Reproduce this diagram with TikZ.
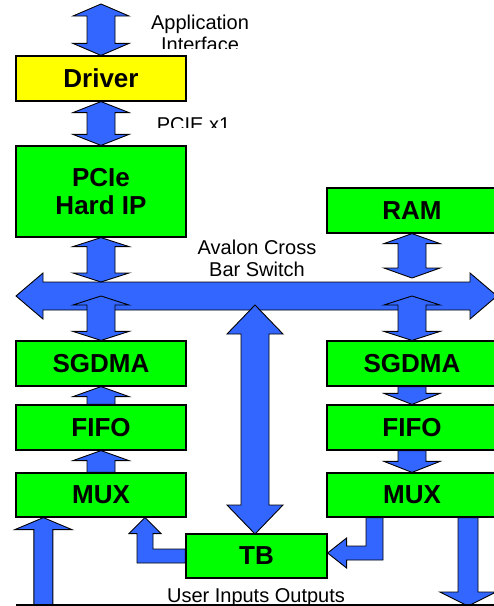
\documentclass[tikz,border=0pt]{standalone}
\usepackage{fontspec}
\setmainfont{Liberation Sans}
\usetikzlibrary{calc}

\definecolor{arrowblue}{RGB}{51,102,255}
\definecolor{boxgreen}{RGB}{0,255,0}
\definecolor{drvyellow}{RGB}{255,255,0}

% fat double arrow, top point, bottom point, head length
\newcommand\vdarrow[3]{%
  \filldraw [blk] let \p1=(#1), \p2=(#2) in
    (\x1,\y1) -- (\x1+28pt,\y1-#3) -- (\x1+14pt,\y1-#3) -- (\x1+14pt,\y2+#3) -- (\x1+28pt,\y2+#3)
    -- (\x1,\y2) -- (\x1-28pt,\y2+#3) -- (\x1-14pt,\y2+#3) -- (\x1-14pt,\y1-#3) -- (\x1-28pt,\y1-#3) -- cycle;}
% fat single arrow, tail, tip, shaft half, head half, head length (signed)
\newcommand\blkarrow[5]{%
  \filldraw [blk] let \p1=(#1), \p2=(#2), \n1={#5} in
    (\x2,\y2) -- (\x2+#4,\y2-\n1) -- (\x2+#3,\y2-\n1) -- (\x2+#3,\y1)
    -- (\x2-#3,\y1) -- (\x2-#3,\y2-\n1) -- (\x2-#4,\y2-\n1) -- cycle;}

\begin{document}
\begin{tikzpicture}[x=1pt,y=-1pt]
\tikzstyle{every node}+=[inner sep=0pt]
\tikzstyle{blk}=[draw=black,fill=arrowblue,line width=0.9pt,line join=miter]
\tikzstyle{box}=[draw=black,fill=boxgreen,line width=1.2pt,minimum width=170pt,minimum height=45pt,align=center,font=\fontsize{26}{28}\selectfont\bfseries]
\tikzstyle{lbl}=[align=center,font=\fontsize{20}{22}\selectfont]
\useasboundingbox (0,0) rectangle (494,606);
% blocks
\node [box,fill=drvyellow] (drv) at (101,78.5) {Driver};
\node [box,minimum height=91pt] (pcie) at (101,191.5) {PCIe\\Hard IP};
\node [box] (ram) at (412,210.5) {RAM};
\node [box] (sgl) at (101,363.5) {SGDMA};
\node [box] (sgr) at (412,363.5) {SGDMA};
\node [box] (fifol) at (101,427.5) {FIFO};
\node [box] (fifor) at (412,427.5) {FIFO};
\node [box,minimum height=44pt] (muxl) at (101,495) {MUX};
\node [box,minimum height=44pt] (muxr) at (412,495) {MUX};
\node [box,minimum width=141pt,minimum height=44pt] (tb) at (256.5,556) {TB};
% free ends
\coordinate (apptop) at (101,4);
\coordinate (busl) at (16,296);
\coordinate (busr) at (497,296);
\coordinate (bustopl) at (101,282);
\coordinate (busmidl) at (101,296);
\coordinate (bustopr) at (412,278);
\coordinate (busmidr) at (412,296);
\coordinate (xbarbot) at (255,305);
\coordinate (tbtop) at (255,534);
\coordinate (inbot) at (44,606);
\coordinate (intip) at ($(muxl.south west)+(28,0)$);
\coordinate (outtop) at ($(muxr.south west)+(141,0)$);
\coordinate (outbot) at (468,606);
% cross bar
\filldraw [blk] let \p1=(busl), \p2=(busr) in
  (\x1,\y1) -- (\x1+27pt,\y1+23pt) -- (\x1+27pt,\y1+14pt) -- (\x2-27pt,\y2+14pt) -- (\x2-27pt,\y2+23pt)
  -- (\x2,\y2) -- (\x2-27pt,\y2-23pt) -- (\x2-27pt,\y2-14pt) -- (\x1+27pt,\y1-14pt) -- (\x1+27pt,\y1-23pt) -- cycle;
% double arrows
\vdarrow{apptop}{drv.north}{12pt}
\vdarrow{drv.south}{pcie.north}{11pt}
\vdarrow{pcie.south}{bustopl}{9pt}
\vdarrow{ram.south}{bustopr}{10pt}
\vdarrow{busmidl}{sgl.north}{9pt}
\vdarrow{busmidr}{sgr.north}{9pt}
\vdarrow{xbarbot}{tbtop}{29pt}
% single arrows
\blkarrow{fifol.north}{sgl.south}{14pt}{28pt}{10pt}
\blkarrow{muxl.north}{fifol.south}{14pt}{28pt}{10pt}
\blkarrow{sgr.south}{fifor.north}{14pt}{28pt}{-11pt}
\blkarrow{fifor.south}{muxr.north}{14pt}{28pt}{-11pt}
\blkarrow{inbot}{intip}{9.5pt}{28.5pt}{12pt}
\blkarrow{outtop}{outbot}{10pt}{28pt}{-14pt}
% bent arrows to and from TB
\filldraw [blk] let \p1=(tb.west), \p2=($(muxl.south)+(44,0)$) in
  (\x1,\y1+7pt) -- (\x2+8pt,\y1+7pt) -- (\x2+8pt,\y2-16pt) -- (\x2+16pt,\y2-16pt) -- (\x2,\y2)
  -- (\x2-16pt,\y2-16pt) -- (\x2-8pt,\y2-16pt) -- (\x2-8pt,\y1-7pt) -- (\x1,\y1-7pt) -- cycle;
\filldraw [blk] let \p1=($(muxr.south)+(-37.5,0)$), \p2=($(tb.east)+(0,-3)$) in
  (\x1-8.5pt,\y1) -- (\x1+8.5pt,\y1) -- (\x1+8.5pt,\y2-7pt) -- (\x2+19pt,\y2-7pt) -- (\x2+19pt,\y2-15pt)
  -- (\x2,\y2) -- (\x2+19pt,\y2+15pt) -- (\x2+19pt,\y2+7pt) -- (\x1-8.5pt,\y2+7pt) -- cycle;
% labels
\begin{scope}
\clip (130,0) rectangle (270,48.5);
\node [lbl] (applbl) at (200,33) {Application\\Interface};
\end{scope}
\begin{scope}
\clip (140,100) rectangle (260,127.5);
\node [lbl] (linklbl) at (193.5,124.5) {PCIE x1};
\end{scope}
\node [lbl] (xbarlbl) at (257,258) {Avalon Cross\\Bar Switch};
\begin{scope}
\clip (140,570) rectangle (370,604);
\node [lbl,anchor=base] (iolbl) at (256,602) {User Inputs Outputs};
\end{scope}
\draw [black,line width=1.5pt] (16,605) -- (494,605);
\end{tikzpicture}
\end{document}
